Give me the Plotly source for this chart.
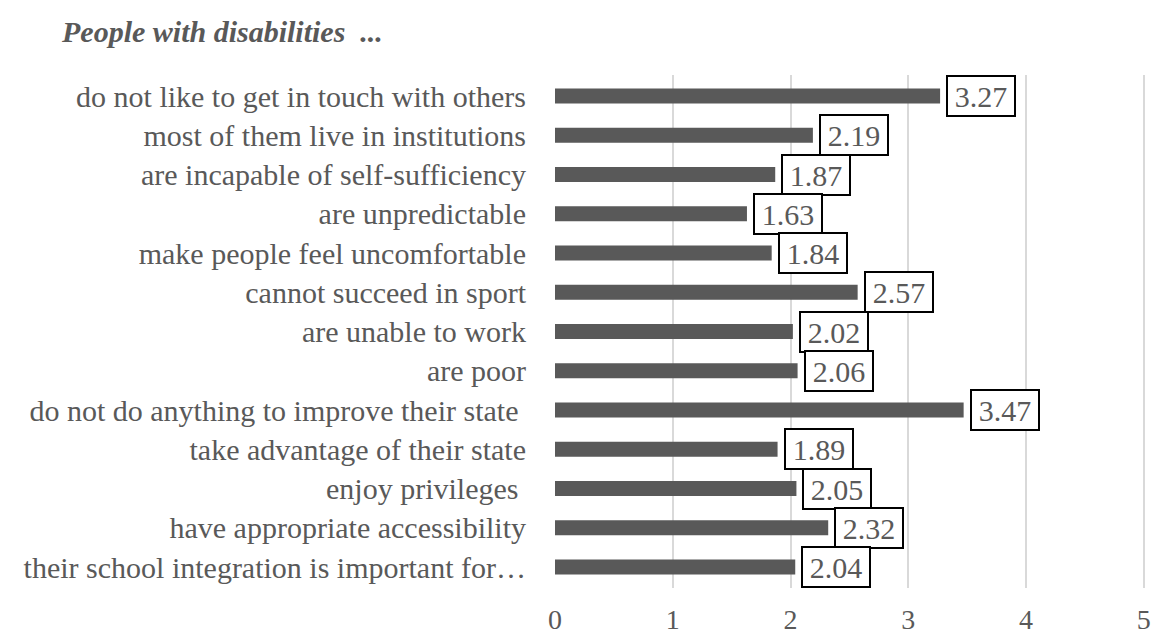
import plotly.graph_objects as go

categories = [
    "do not like to get in touch with others",
    "most of them live in institutions",
    "are incapable of self-sufficiency",
    "are unpredictable",
    "make people feel uncomfortable",
    "cannot succeed in sport",
    "are unable to work",
    "are poor",
    "do not do anything to improve their state ",
    "take advantage of their state",
    "enjoy privileges ",
    "have appropriate accessibility",
    "their school integration is important for…",
]
values = [3.27, 2.19, 1.87, 1.63, 1.84, 2.57, 2.02, 2.06, 3.47, 1.89, 2.05, 2.32, 2.04]
value_labels = ["3.27", "2.19", "1.87", "1.63", "1.84", "2.57", "2.02", "2.06", "3.47", "1.89", "2.05", "2.32", "2.04"]
x_ticks = [0, 1, 2, 3, 4, 5]
title_text = "People with disabilities  ..."

FONT = "Liberation Serif"
GREY = "#595959"

fig = go.Figure()
fig.add_trace(go.Bar(
    x=values, y=categories, orientation="h",
    marker=dict(color=GREY, line=dict(width=0)),
    width=0.38, hoverinfo="skip",
))

for c, v, t in zip(categories, values, value_labels):
    fig.add_annotation(
        x=v, y=c, text=t, showarrow=False, xanchor="left", yanchor="middle",
        xshift=6, font=dict(family=FONT, size=30, color=GREY),
        width=64, height=36, align="center", valign="middle",
        bgcolor="white", bordercolor="black", borderwidth=2, borderpad=1,
    )

fig.update_layout(
    width=1159, height=639,
    margin=dict(l=555, r=14, t=75, b=51),
    paper_bgcolor="white", plot_bgcolor="white",
    showlegend=False,
    font=dict(family=FONT, size=30, color=GREY),
    xaxis=dict(
        range=[0, 5.01], tickvals=x_ticks, ticktext=[str(t) for t in x_ticks],
        showgrid=True, gridcolor="#d9d9d9", gridwidth=1.5, zeroline=False,
        showline=False, ticks="", tickfont=dict(family=FONT, size=28, color=GREY),
        ticklabelstandoff=12, automargin=False, fixedrange=True,
    ),
    yaxis=dict(
        categoryorder="array", categoryarray=categories, autorange="reversed",
        showgrid=False, zeroline=False, showline=False, ticks="",
        ticklabelstandoff=28, automargin=False,
        tickfont=dict(family=FONT, size=30, color=GREY),
    ),
    title=dict(
        text="<b><i>" + title_text + "</i></b>",
        x=62 / 1159, xanchor="left", y=1 - 31 / 639, yanchor="middle",
        font=dict(family=FONT, size=30, color=GREY),
    ),
)

fig.write_html("out.html")
